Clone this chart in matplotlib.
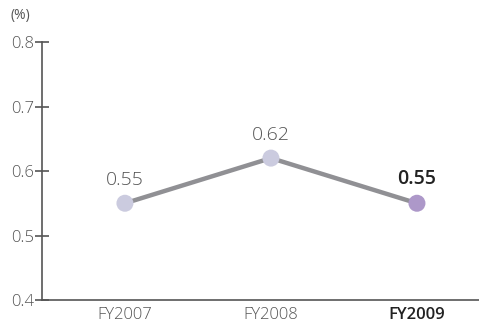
import matplotlib
matplotlib.use("Agg")
from matplotlib import pyplot as plt

# fiscal years and ratio (%)
years = ["FY2007", "FY2008", "FY2009"]
ratios = [0.55, 0.62, 0.55]
point_colors = ["#cbcbdf", "#cbcbdf", "#ad98c9"]

plt.rcParams['font.family'] = ['Open Sans', 'DejaVu Sans']

fig = plt.figure(figsize=(4.79, 3.30), dpi=100)
ax = fig.add_axes([0.0877, 0.0909, 0.9123, 0.7818])

xs = list(range(len(years)))
ax.plot(xs, ratios, color="#909094", lw=3.2, zorder=2, solid_capstyle="butt")
ax.scatter(xs, ratios, s=150, c=point_colors, zorder=3, edgecolors="none")

# value labels above each point
for i, v in enumerate(ratios):
    last = i == len(ratios) - 1
    ax.annotate(f"{v:.2f}", (i, v), xytext=(0, 10), textcoords="offset points",
                ha="center", va="bottom", fontsize=14,
                color="#222222" if last else "#555555",
                fontweight="semibold" if last else "light")

ax.set_xlim(-0.568, 2.425)
ax.set_ylim(0.4, 0.8)
ax.set_yticks([0.4, 0.5, 0.6, 0.7, 0.8])
ax.set_yticklabels(["0.4", "0.5", "0.6", "0.7", "0.8"])
ax.set_xticks(xs)
ax.set_xticklabels(years)

for sp in ["top", "right"]:
    ax.spines[sp].set_visible(False)
for sp in ["left", "bottom"]:
    ax.spines[sp].set_color("#555555")
    ax.spines[sp].set_linewidth(1.2)

ax.tick_params(axis="y", direction="inout", length=10, width=1.2, color="#555555",
               labelsize=12, labelcolor="#555555", pad=1)
ax.tick_params(axis="x", length=0, labelsize=12, labelcolor="#555555", pad=5)
for lbl in ax.get_xticklabels():
    lbl.set_fontweight("light")
ax.get_xticklabels()[-1].set_color("#222222")
ax.get_xticklabels()[-1].set_fontweight("semibold")
for lbl in ax.get_yticklabels():
    lbl.set_fontweight("light")

fig.text(0.021, 0.952, "(%)", fontsize=10, color="#555555", ha="left", va="center")

fig.savefig("out.png", dpi=100)
